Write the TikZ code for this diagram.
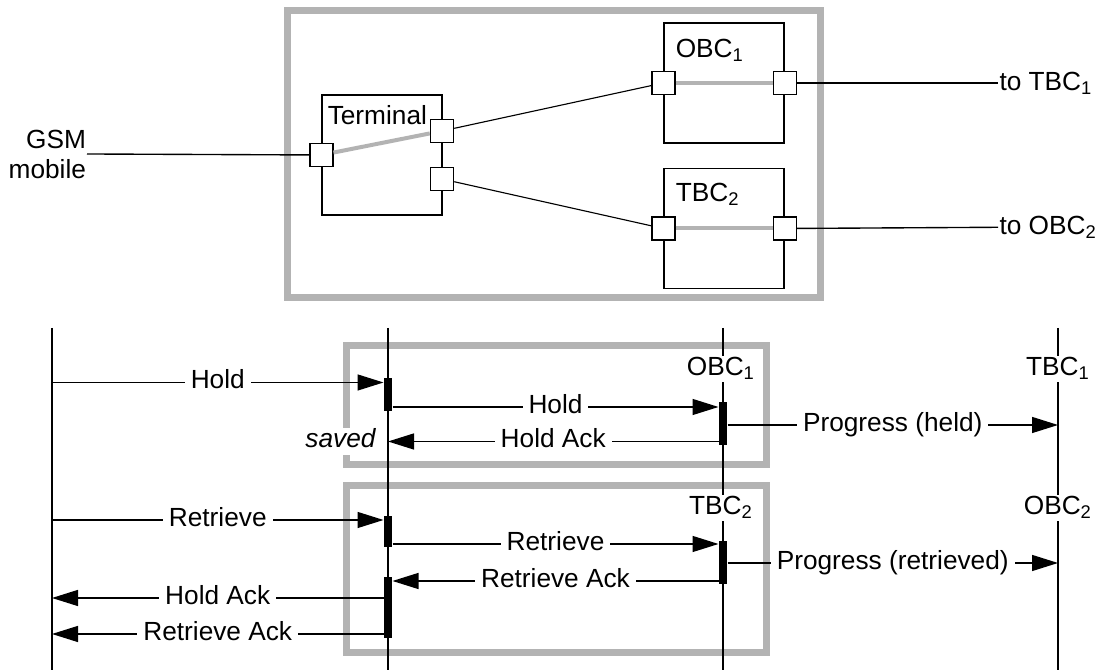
\documentclass[tikz,border=0pt]{standalone}
\usepackage{fontspec}
\setmainfont{Liberation Sans}
\usepackage{xcolor}
\usepackage{tikz}
\usetikzlibrary{positioning, arrows.meta}
\definecolor{framegray}{RGB}{179,179,179}

\begin{document}
\begin{tikzpicture}[x=0.4pt, y=-0.4pt, font=\fontsize{10.5}{12}\selectfont,
        comp/.style={draw, line width=0.6pt, minimum size=48pt, inner sep=0pt},
        port/.style={draw, fill=white, line width=0.6pt, minimum size=9.2pt, inner sep=0pt},
        compname/.style={anchor=north west, inner sep=0pt},
        frame/.style={draw=framegray, line width=2.8pt},
        link/.style={draw=framegray, line width=1.6pt},
        wire/.style={line width=0.45pt},
        life/.style={line width=0.55pt},
        bar/.style={fill, inner sep=0pt, minimum width=3.2pt},
        msg/.style={line width=0.55pt, -{Triangle[length=10.4pt, width=6.4pt]}},
        lbl/.style={fill=white, inner xsep=2.4pt, inner ysep=0.5pt, text height=0.73em, text depth=0.22em}]
        \useasboundingbox (0,0) rectangle (1101,670);

        % structure
        \draw[frame] (287,11) rectangle (820,298);
        \node[comp] (term) at (382,155) {};
        \node[comp] (obc) at (724,83) {};
        \node[comp] (tbc) [below=9.6pt of obc] {};
        \node[compname] at ([shift={(6,11)}]term.north west) {Terminal};
        \node[compname] at ([shift={(12,16)}]obc.north west) {OBC\textsubscript{1}};
        \node[compname] at ([shift={(12,15)}]tbc.north west) {TBC\textsubscript{2}};

        \node[port] (termL) at (term.west) {};
        \node[port] (termA) at (442,131) {};
        \node[port] (termB) at (442,179) {};
        \node[port] (obcL) at (obc.west) {};
        \node[port] (obcR) at (obc.east) {};
        \node[port] (tbcL) at (tbc.west) {};
        \node[port] (tbcR) at (tbc.east) {};

        \draw[link] (termL) -- (termA);
        \draw[link] (obcL) -- (obcR);
        \draw[link] (tbcL) -- (tbcR);
        \draw[wire] (termA) -- (obcL);
        \draw[wire] (termB) -- (tbcL);

        \node[align=right, inner sep=0.2pt, anchor=east] (gsm) at (87,154) {GSM\\mobile};
        \node[anchor=west, inner sep=0.4pt, text height=0.72em, text depth=0.1em] (toT) at (998,83) {to TBC\textsubscript{1}};
        \node[anchor=west, inner sep=0.4pt, text height=0.72em, text depth=0.1em] (toO) at (998,227) {to OBC\textsubscript{2}};
        \draw[life] (gsm.east) -- (termL);
        \draw[life] (obcR) -- (toT);
        \draw[life] (tbcR) -- (toO);

        % sequence
        \draw[frame] (346,346) rectangle (766,465);
        \draw[frame] (346,486) rectangle (766,653);

        \coordinate (mobTop) at (52,328);
        \coordinate (mobBot) at (52,670);
        \coordinate (termTop) at (388,328);
        \coordinate (termBot) at (388,670);
        \coordinate (obcTop) at (723,328);
        \coordinate (obcBot) at (723,670);
        \coordinate (farTop) at (1058,328);
        \coordinate (farBot) at (1058,670);
        \draw[life] (mobTop) -- (mobBot);
        \draw[life] (termTop) -- (termBot);
        \draw[life] (obcTop) -- (obcBot);
        \draw[life] (farTop) -- (farBot);

        \node[lbl] (obcName) at (721,369) {OBC\textsubscript{1}};
        \node[lbl] (tbcName) at (721,508) {TBC\textsubscript{2}};
        \node[lbl] (farT) at (1058,369) {TBC\textsubscript{1}};
        \node[lbl] (farO) at (1058,508) {OBC\textsubscript{2}};

        \node[bar, minimum height=13.2pt] (b1) at (388,394.5) {};
        \node[bar, minimum height=17.2pt] (b2) at (723,423.5) {};
        \node[bar, minimum height=12.4pt] (b3) at (388,531.5) {};
        \node[bar, minimum height=17.2pt] (b4) at (723,562.5) {};
        \node[bar, minimum height=24.4pt] (b5) at (388,607.5) {};

        \coordinate (rHold) at (0,382.5);
        \coordinate (rHoldFwd) at (0,407);
        \coordinate (rProgHeld) at (0,425);
        \coordinate (rHoldAck) at (0,441.5);
        \coordinate (rRetr) at (0,520);
        \coordinate (rRetrFwd) at (0,544);
        \coordinate (rProgRetr) at (0,563);
        \coordinate (rRetrAck) at (0,581);
        \coordinate (rHoldAckM) at (0,598);
        \coordinate (rRetrAckM) at (0,634);

        \draw[msg] (mobTop |- rHold) -- (b1.west |- rHold) node[lbl, midway] {Hold};
        \draw[msg] (b1.east |- rHoldFwd) -- (b2.west |- rHoldFwd) node[lbl, midway] {Hold};
        \draw[msg] (b2.east |- rProgHeld) -- (farTop |- rProgHeld) node[lbl, midway] {Progress (held)};
        \draw[msg] (b2.west |- rHoldAck) -- (termTop |- rHoldAck) node[lbl, midway] {Hold Ack};
        \node[lbl, anchor=east] (saved) at (382,441.5) {\itshape saved};
        \draw[msg] (mobTop |- rRetr) -- (b3.west |- rRetr) node[lbl, midway] {Retrieve};
        \draw[msg] (b3.east |- rRetrFwd) -- (b4.west |- rRetrFwd) node[lbl, midway] {Retrieve};
        \draw[msg] (b4.east |- rProgRetr) -- (farTop |- rProgRetr) node[lbl, midway] {Progress (retrieved)};
        \draw[msg] (b4.west |- rRetrAck) -- (b5.east |- rRetrAck) node[lbl, midway] {Retrieve Ack};
        \draw[msg] (b5.west |- rHoldAckM) -- (mobTop |- rHoldAckM) node[lbl, midway] {Hold Ack};
        \draw[msg] (b5.west |- rRetrAckM) -- (mobTop |- rRetrAckM) node[lbl, midway] {Retrieve Ack};
\end{tikzpicture}
\end{document}
